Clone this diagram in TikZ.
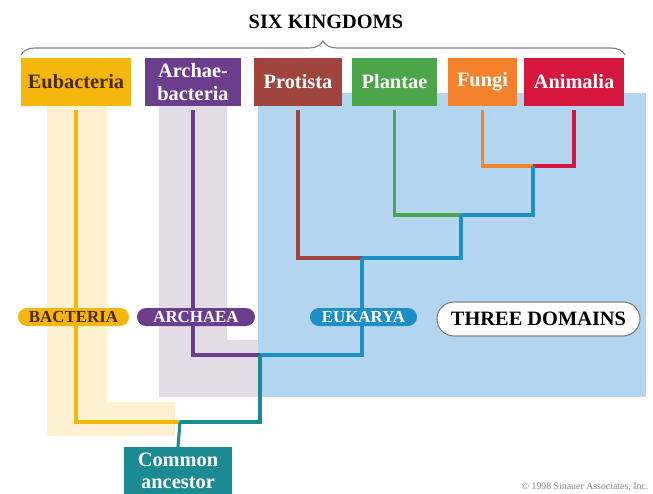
\documentclass[tikz,border=0pt]{standalone}
\usepackage{fontspec}
\setmainfont{Liberation Serif}
\usetikzlibrary{decorations.pathreplacing}

\definecolor{eubactcol}{HTML}{F5B60E}
\definecolor{eubacttext}{HTML}{4E2A0C}
\definecolor{archaecol}{HTML}{6A3E8C}
\definecolor{protistacol}{HTML}{A0443E}
\definecolor{plantaecol}{HTML}{4DA549}
\definecolor{fungicol}{HTML}{F4812C}
\definecolor{animaliacol}{HTML}{D5173F}
\definecolor{eukaryacol}{HTML}{1E8EC7}
\definecolor{ancestorcol}{HTML}{1C8A92}
\definecolor{bluebg}{HTML}{B4D5EF}
\definecolor{purplebg}{HTML}{E3DBE5}
\definecolor{yellowbg}{HTML}{FDF1D2}

\begin{document}
\begin{tikzpicture}[x=0.025cm, y=-0.025cm,
    kingdom/.style={rectangle, inner sep=0pt, minimum height=1.2cm, text=white, align=center, font=\fontsize{14.5}{17}\selectfont\bfseries},
    domainpill/.style={rectangle, rounded corners=0.225cm, inner sep=0pt, minimum height=0.45cm, font=\fontsize{12}{14}\selectfont\bfseries},
    branch/.style={line width=2.2pt, shorten <=0.1cm},
    link/.style={line width=2.2pt}]

    \useasboundingbox (0,0) rectangle (653,494);
    \clip (0,0) rectangle (653,494);

    % shaded domain areas
    \fill[bluebg] (258,93) rectangle (646,397);
    \fill[purplebg] (159,106) -- (227,106) -- (227,340) -- (258,340) -- (258,397) -- (159,397) -- cycle;
    \fill[yellowbg] (47,106) -- (107,106) -- (107,402) -- (175,402) -- (175,436) -- (47,436) -- cycle;

    % title and brace
    \node[font=\fontsize{14.5}{17}\selectfont\bfseries] (title) at (326,22) {SIX KINGDOMS};
    \draw[gray, line width=0.8pt, decorate, decoration={brace, amplitude=0.35cm, aspect=0.5}] (21,55) -- (625,55);

    % kingdoms
    \node[kingdom, fill=eubactcol, text=eubacttext, minimum width=2.725cm] (eubact) at (76,82) {Eubacteria};
    \node[kingdom, fill=archaecol, minimum width=2.4cm] (archae) at (193,82) {Archae-\\bacteria};
    \node[kingdom, fill=protistacol, minimum width=2.2cm] (protista) at (298,82) {Protista};
    \node[kingdom, fill=plantaecol, minimum width=2.125cm] (plantae) at (394.5,82) {Plantae};
    \node[kingdom, fill=fungicol, minimum width=1.725cm] (fungi) at (482.5,82) {Fungi};
    \node[kingdom, fill=animaliacol, minimum width=2.5cm] (animalia) at (574,82) {Animalia};

    \node[kingdom, fill=ancestorcol, minimum width=2.7cm, minimum height=1.175cm, anchor=north, font=\fontsize{14.5}{15.5}\selectfont\bfseries] (ancestor) at (178,447) {Common\\ancestor};

    % branch points
    \coordinate (j_fa) at (533,166);
    \coordinate (j_pfa) at (461,215);
    \coordinate (j_euk) at (362,258);
    \coordinate (j_ae) at (260,355);
    \coordinate (j_root) at (180,422);

    % tree
    \draw[branch, fungicol] (fungi.south) |- (j_fa);
    \draw[branch, animaliacol] (animalia.south) |- (j_fa);
    \draw[link, eukaryacol] (j_fa) |- (j_pfa);
    \draw[branch, plantaecol] (plantae.south) |- (j_pfa);
    \draw[link, eukaryacol] (j_pfa) |- (j_euk);
    \draw[branch, protistacol] (protista.south) |- (j_euk);
    \draw[link, eukaryacol] (j_euk) |- (j_ae);
    \draw[branch, archaecol] (archae.south) |- (j_ae);
    \draw[link, ancestorcol] (j_ae) |- (j_root);
    \draw[branch, eubactcol] (eubact.south) |- (j_root);
    \draw[link, ancestorcol] (j_root) -- (ancestor.north);

    % domains
    \node[domainpill, fill=eubactcol, text=eubacttext, minimum width=2.775cm] (bacteria) at (73.5,317) {BACTERIA};
    \node[domainpill, fill=archaecol, text=white, minimum width=2.95cm] (archaea) at (196,317) {ARCHAEA};
    \node[domainpill, fill=eukaryacol, text=white, minimum width=2.675cm] (eukarya) at (363.5,317) {EUKARYA};
    \node[domainpill, draw=gray, line width=0.8pt, fill=white, rounded corners=0.425cm, minimum width=5.075cm, minimum height=0.85cm, font=\fontsize{14.5}{17}\selectfont\bfseries] (three) at (538.5,319) {THREE DOMAINS};

    \node[anchor=south east, text=gray, inner sep=1pt, font=\fontsize{7}{8}\selectfont] (credit) at (650,493) {\copyright{} 1998 Sinauer Associates, Inc.};

\end{tikzpicture}
\end{document}
